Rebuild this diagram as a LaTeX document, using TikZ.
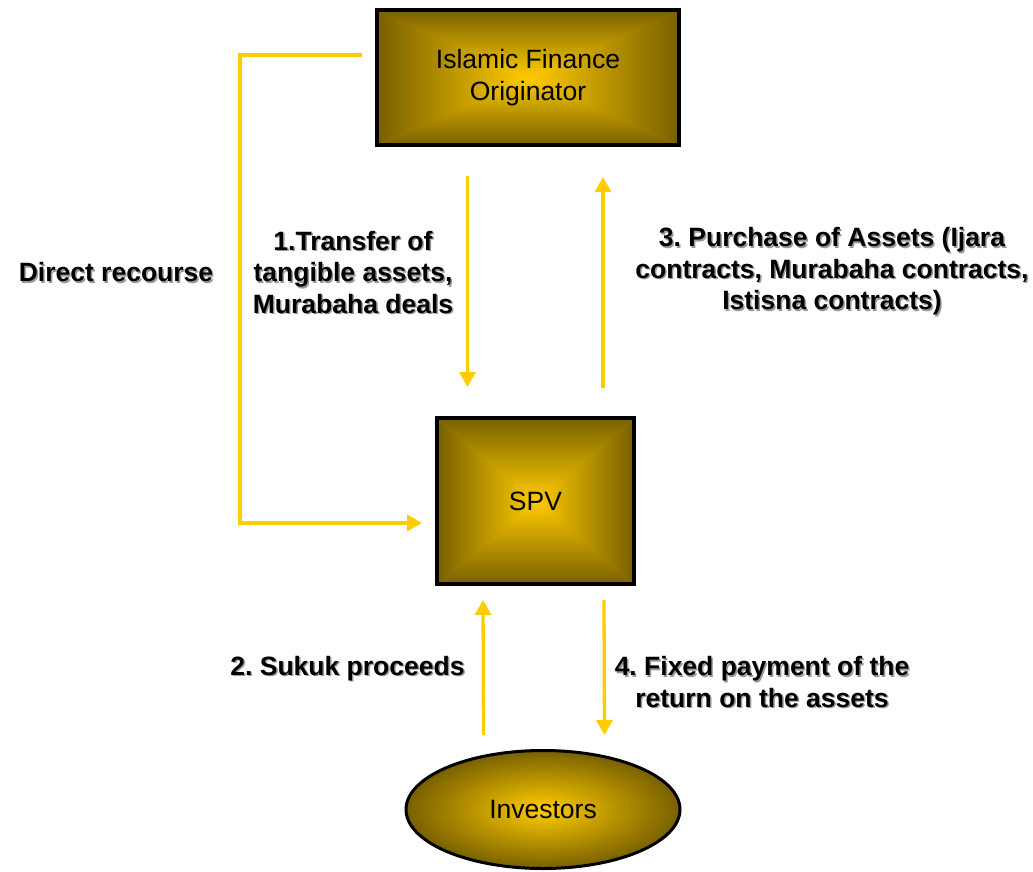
\documentclass[tikz,border=0pt]{standalone}
\usepackage{fontspec}
\setmainfont{Liberation Sans}
\usetikzlibrary{arrows.meta,calc,shapes.geometric}
\definecolor{gd}{RGB}{255,204,0}
\definecolor{dk}{RGB}{120,96,0}
\definecolor{arrowc}{RGB}{255,204,0}
\newcommand\shd[1]{\makebox[0pt][l]{\kern1.5pt\raisebox{-1.5pt}{\textcolor{black!40}{#1}}}#1}
\frenchspacing
\begin{document}
\begin{tikzpicture}[x=1pt,y=-1pt,
  pyr/.style={draw=black,line width=4pt,rectangle,inner sep=0pt,
    font=\fontsize{26.5}{31.5}\selectfont,align=center,
    path picture={
      \fill[dk!55!gd] (path picture bounding box.north west) rectangle (path picture bounding box.south east);
      \shade[top color=dk,bottom color=gd] (path picture bounding box.north west)--(path picture bounding box.north east)--(path picture bounding box.center)--cycle;
      \shade[top color=gd,bottom color=dk] (path picture bounding box.south west)--(path picture bounding box.south east)--(path picture bounding box.center)--cycle;
      \shade[left color=dk,right color=gd] (path picture bounding box.north west)--(path picture bounding box.south west)--(path picture bounding box.center)--cycle;
      \shade[left color=gd,right color=dk] (path picture bounding box.north east)--(path picture bounding box.south east)--(path picture bounding box.center)--cycle;
    }},
  oval/.style={draw=black,line width=3pt,ellipse,inner sep=0pt,
    font=\fontsize{26.5}{31.5}\selectfont,
    shade,inner color=gd,outer color=dk},
  lab/.style={font=\bfseries\fontsize{26.5}{31.5}\selectfont,align=center,inner sep=0pt},
  arr/.style={draw=arrowc,line width=3.3pt,-{Triangle[width=16pt,length=15pt]}}
]
\useasboundingbox (0,0) rectangle (1033,872);

\node[pyr,minimum width=302pt,minimum height=135pt] (orig) at (528,77.5) {Islamic Finance\\Originator};
\node[pyr,minimum width=197pt,minimum height=166pt] (spv) at (535.5,501) {SPV};
\node[oval,minimum width=274pt,minimum height=118pt] (inv) at (543,809.5) {Investors};

\node[lab] (ldr) at (116,273) {\shd{Direct recourse}};
\node[lab] (l1) at (353,273) {\shd{1.Transfer of}\\\shd{tangible assets,}\\\shd{Murabaha deals}};
\node[lab] (l3) at (832,272) {\shd{3. Purchase of Assets (Ijara}\\\shd{contracts, Murabaha contracts,}\\\shd{Istisna contracts)}};
\node[lab] (l2) at (347.5,669) {\shd{2. Sukuk proceeds}};
\node[lab] (l4) at (762,683) {\shd{4. Fixed payment of the}\\\shd{return on the assets}};

\coordinate (drs) at ($(orig.west)+(-13,-22.5)$);
\coordinate (dre) at ($(spv.west)+(-13,22)$);
\draw[arr] (drs) -- ($(drs)+(-122,0)$) |- (dre);

\draw[arr] ($(orig.south)+(-60.5,29)$) -- ($(spv.north)+(-68,-29)$);
\draw[arr] ($(spv.north)+(67.5,-28)$) -- ($(orig.south)+(75,30)$);
\draw[arr] ($(inv.north)+(-59.5,-14)$) -- ($(spv.south)+(-52.5,14)$);
\draw[arr] ($(spv.south)+(68.5,14)$) -- ($(inv.north)+(61.5,-14)$);
\end{tikzpicture}
\end{document}
